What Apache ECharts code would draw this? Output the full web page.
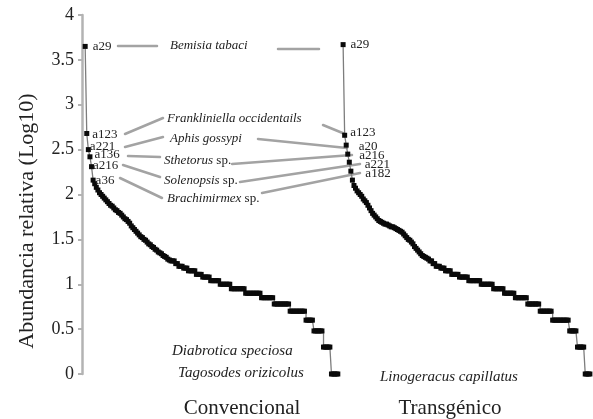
<!DOCTYPE html>
<html>
<head>
<meta charset="utf-8">
<title>Abundancia relativa</title>
<script src="https://cdn.jsdelivr.net/npm/echarts@6/dist/echarts.min.js"></script>
<style>
  html, body { margin: 0; padding: 0; background: #fff; }
  #main { width: 593px; height: 419px; }
</style>
</head>
<body>
<div id="main"></div>
<script>
// log10 abundance by rank
var convencional = [
  3.65, 2.68, 2.50, 2.42, 2.31, 2.16, 2.12, 2.08, 2.05, 2.02,
  2.00, 1.98, 1.96, 1.94, 1.92, 1.90, 1.88, 1.87, 1.85, 1.83,
  1.82, 1.80, 1.79, 1.77, 1.75, 1.73, 1.72, 1.70, 1.68, 1.65,
  1.63, 1.61, 1.59, 1.57, 1.55, 1.53, 1.52, 1.50, 1.49, 1.47,
  1.45, 1.44, 1.42, 1.41, 1.39, 1.38, 1.36, 1.35, 1.34, 1.32,
  1.31, 1.30, 1.28, 1.27,
  1.26, 1.26, 1.26, 1.23, 1.23, 1.20, 1.20, 1.20, 1.18, 1.18,
  1.18, 1.15, 1.15, 1.15, 1.15, 1.15, 1.11, 1.11, 1.11, 1.11,
  1.08, 1.08, 1.08, 1.08, 1.08, 1.04, 1.04, 1.04, 1.04, 1.04,
  1.04, 1.00, 1.00, 1.00, 1.00, 1.00, 1.00, 1.00, 0.95, 0.95,
  0.95, 0.95, 0.95, 0.95, 0.95, 0.95, 0.95, 0.90, 0.90, 0.90,
  0.90, 0.90, 0.90, 0.90, 0.90, 0.90, 0.90, 0.85, 0.85, 0.85,
  0.85, 0.85, 0.85, 0.85, 0.85, 0.78, 0.78, 0.78, 0.78, 0.78,
  0.78, 0.78, 0.78, 0.78, 0.78, 0.70, 0.70, 0.70, 0.70, 0.70,
  0.70, 0.70, 0.70, 0.70, 0.70, 0.60, 0.60, 0.60, 0.60, 0.60,
  0.48, 0.48, 0.48, 0.48, 0.48, 0.48, 0.30, 0.30, 0.30, 0.30,
  0.30, 0, 0, 0, 0, 0
];
var transgenico = [
  3.67, 2.66, 2.55, 2.45, 2.36, 2.26, 2.16, 2.10, 2.07, 2.04,
  2.02, 2.00, 1.98, 1.95, 1.93, 1.91, 1.88, 1.85, 1.82, 1.79,
  1.77, 1.75, 1.73, 1.71, 1.70, 1.69, 1.68, 1.67, 1.67, 1.66,
  1.65, 1.64, 1.64, 1.63, 1.62, 1.61, 1.60, 1.59, 1.58, 1.56,
  1.54, 1.52, 1.50, 1.49, 1.47, 1.45, 1.42, 1.40, 1.38, 1.36,
  1.34, 1.32, 1.31, 1.30, 1.29, 1.28,
  1.26, 1.26, 1.23, 1.23, 1.20, 1.20, 1.20, 1.18, 1.18, 1.18,
  1.15, 1.15, 1.15, 1.15, 1.11, 1.11, 1.11, 1.11, 1.11, 1.08,
  1.08, 1.08, 1.08, 1.08, 1.08, 1.04, 1.04, 1.04, 1.04, 1.04,
  1.04, 1.04, 1.04, 1.00, 1.00, 1.00, 1.00, 1.00, 1.00, 1.00,
  1.00, 0.95, 0.95, 0.95, 0.95, 0.95, 0.95, 0.95, 0.90, 0.90,
  0.90, 0.90, 0.90, 0.90, 0.90, 0.85, 0.85, 0.85, 0.85, 0.85,
  0.85, 0.85, 0.85, 0.78, 0.78, 0.78, 0.78, 0.78, 0.78, 0.78,
  0.78, 0.70, 0.70, 0.70, 0.70, 0.70, 0.70, 0.70, 0.70, 0.60,
  0.60, 0.60, 0.60, 0.60, 0.60, 0.60, 0.60, 0.60, 0.60, 0.60,
  0.48, 0.48, 0.48, 0.48, 0.48, 0.30, 0.30, 0.30, 0.30, 0.30,
  0, 0, 0, 0
];
var convTags = ['a29', 'a123', 'a221', 'a136', 'a216', 'a36'];
var transTags = ['a29', 'a123', 'a20', 'a216', 'a221', 'a182'];
var groups = ['Convencional', 'Transgénico'];
var topSpecies = ['Bemisia tabaci', 'Frankliniella occidentails', 'Aphis gossypi',
  'Sthetorus', 'Solenopsis', 'Brachimirmex'];
var bottomSpecies = ['Diabrotica speciosa', 'Tagosodes orizicolus', 'Linogeracus capillatus'];

var serif = '"Liberation Serif", "Times New Roman", serif';
var ink = '#222';
var grey = '#a3a3a3';

// small nudges so the tags sit where they do in the figure
var convShift = [[3, 0], [1, 1], [-3, -3], [0, -2], [-3, -1], [-2, 0]];
var transShift = [[3, 0], [1, -3], [8, 1], [7, 1], [11, 2], [10, 2]];

function buildData(values, tags, shift) {
  return values.map(function (v, i) {
    var item = { value: [i, v] };
    if (i < tags.length) {
      item.label = {
        show: true,
        position: 'right',
        distance: 2,
        offset: shift[i],
        formatter: tags[i],
        fontFamily: serif,
        fontSize: 13,
        color: ink
      };
    }
    return item;
  });
}

function rankSeries(name, idx, values, tags, shift) {
  return {
    name: name,
    type: 'line',
    xAxisIndex: idx,
    yAxisIndex: idx,
    step: 'end',
    showAllSymbol: true,
    symbol: 'rect',
    symbolSize: [5, 5],
    itemStyle: { color: '#0a0a0a' },
    lineStyle: { color: '#7d7d7d', width: 1.3 },
    label: { show: false },
    emphasis: { disabled: true },
    data: buildData(values, tags, shift)
  };
}

// connector lines between the tags and the species names
var links = [
  [118, 46, 157, 46], [278, 49, 319, 49],
  [125, 134, 163, 118], [125, 147, 163, 137], [128, 156, 160, 157],
  [123, 165, 160, 177], [120, 178, 162, 198],
  [323, 125, 345, 134], [258, 139, 347, 148], [232, 164, 352, 155],
  [240, 182, 360, 164], [262, 193, 360, 173]
];
var topPos = [[170, 46], [167, 119], [170, 139], [164, 161], [164, 181], [167, 199]];
var bottomPos = [[172, 351], [178, 373], [380, 377]];
var groupPos = [[242, 408], [450, 408]];

var graphics = [];
links.forEach(function (l) {
  graphics.push({
    type: 'line', z: 1,
    shape: { x1: l[0], y1: l[1], x2: l[2], y2: l[3] },
    style: { stroke: grey, lineWidth: 2.5, lineCap: 'round' }
  });
});
topSpecies.forEach(function (s, i) {
  var withSp = i >= 3;
  graphics.push({
    type: 'text', z: 3,
    x: topPos[i][0], y: topPos[i][1],
    style: {
      text: withSp ? '{i|' + s + '} sp.' : s,
      font: (withSp ? '' : 'italic ') + '13px ' + serif,
      rich: { i: { fontStyle: 'italic', fontSize: 13, fontFamily: serif, fill: ink } },
      fill: ink,
      align: 'left', textAlign: 'left',
      verticalAlign: 'middle', textVerticalAlign: 'middle'
    }
  });
});
bottomSpecies.forEach(function (s, i) {
  graphics.push({
    type: 'text', z: 3,
    x: bottomPos[i][0], y: bottomPos[i][1],
    style: {
      text: s, font: 'italic 15px ' + serif, fill: ink,
      align: 'left', textAlign: 'left',
      verticalAlign: 'middle', textVerticalAlign: 'middle'
    }
  });
});
groups.forEach(function (g, i) {
  graphics.push({
    type: 'text', z: 3,
    x: groupPos[i][0], y: groupPos[i][1],
    style: {
      text: g, font: '21px ' + serif, fill: ink,
      align: 'center', textAlign: 'center',
      verticalAlign: 'middle', textVerticalAlign: 'middle'
    }
  });
});
graphics.push({
  type: 'text', z: 3,
  x: 27, y: 221, rotation: Math.PI / 2,
  style: {
    text: 'Abundancia relativa (Log10)', font: '22px ' + serif, fill: ink,
    align: 'center', textAlign: 'center',
    verticalAlign: 'middle', textVerticalAlign: 'middle'
  }
});

var myChart = echarts.init(document.getElementById('main'));
var option = {
  animation: false,
  backgroundColor: '#fff',
  grid: [
    { left: 82, top: 15, width: 259, bottom: 45 },
    { left: 340, top: 15, width: 253, bottom: 45 }
  ],
  xAxis: [
    { gridIndex: 0, type: 'value', min: -2, max: 161, show: false },
    { gridIndex: 1, type: 'value', min: -2, max: 161, show: false }
  ],
  yAxis: [
    {
      gridIndex: 0,
      type: 'value',
      min: 0,
      max: 4,
      interval: 0.5,
      axisLine: { show: true, onZero: false, lineStyle: { color: '#b3b3b3', width: 2.5 } },
      axisTick: { show: true, length: 4, lineStyle: { color: '#b3b3b3', width: 2 } },
      splitLine: { show: false },
      axisLabel: { fontFamily: serif, fontSize: 18, color: ink, margin: 8 }
    },
    { gridIndex: 1, type: 'value', min: 0, max: 4, show: false }
  ],
  series: [
    rankSeries(groups[0], 0, convencional, convTags, convShift),
    rankSeries(groups[1], 1, transgenico, transTags, transShift)
  ],
  graphic: graphics
};
myChart.setOption(option);
</script>
</body>
</html>
